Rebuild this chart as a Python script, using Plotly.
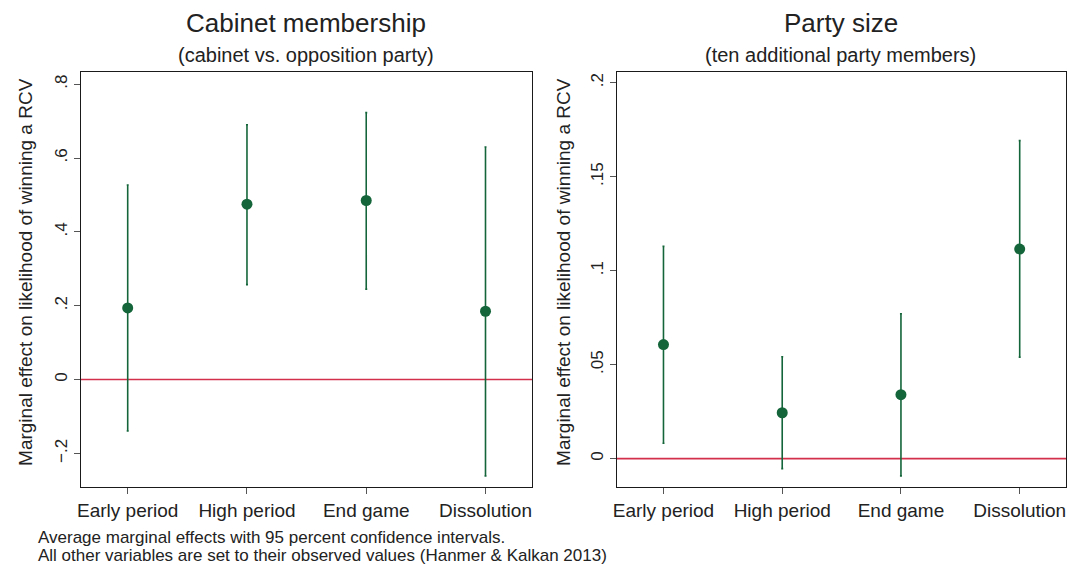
import plotly.graph_objects as go

categories = ["Early period", "High period", "End game", "Dissolution"]

cab_est = [0.194, 0.475, 0.485, 0.185]
cab_lo = [-0.139, 0.257, 0.245, -0.261]
cab_hi = [0.527, 0.690, 0.723, 0.630]

size_est = [0.0607, 0.0244, 0.0340, 0.1115]
size_lo = [0.0082, -0.0053, -0.0092, 0.0540]
size_hi = [0.1129, 0.0542, 0.0771, 0.1692]

cab_ticks = [-0.2, 0, 0.2, 0.4, 0.6, 0.8]
cab_ticktext = ["\u2212.2", "0", ".2", ".4", ".6", ".8"]
size_ticks = [0, 0.05, 0.1, 0.15, 0.2]
size_ticktext = ["0", ".05", ".1", ".15", ".2"]

GREEN = "#14653a"
RED = "#d3304c"
TXT = "#222222"
FONT = "Liberation Sans, Arial, Helvetica, sans-serif"

xpos = list(range(1, len(categories) + 1))

fig = go.Figure()

def add_panel(est, lo, hi, xa, ya):
    fig.add_trace(go.Scatter(
        x=xpos, y=est, mode="markers",
        marker=dict(color=GREEN, size=11),
        error_y=dict(type="data", symmetric=False,
                     array=[h - e for h, e in zip(hi, est)],
                     arrayminus=[e - l for e, l in zip(est, lo)],
                     color=GREEN, thickness=1.6, width=1),
        xaxis=xa, yaxis=ya, showlegend=False, hoverinfo="skip"))

add_panel(cab_est, cab_lo, cab_hi, "x", "y")
add_panel(size_est, size_lo, size_hi, "x2", "y2")

axis_common = dict(showline=True, linecolor="#1a1a1a", linewidth=1.3, mirror=True,
                   showgrid=False, zeroline=False, ticks="outside", ticklen=6,
                   tickcolor="#555555", tickwidth=1.2)
xfont = dict(family=FONT, size=19, color=TXT)
yfont = dict(family=FONT, size=17, color=TXT)

ydom = [1 - 487 / 566, 1 - 72 / 566]

fig.update_layout(
    width=1068, height=566,
    margin=dict(l=0, r=0, t=0, b=0),
    paper_bgcolor="white", plot_bgcolor="white",
    font=dict(family=FONT, color=TXT),
    xaxis=dict(domain=[77 / 1068, 530 / 1068], range=[0.606, 4.39],
               tickvals=xpos, ticktext=categories, anchor="y", tickfont=xfont,
               **axis_common),
    yaxis=dict(domain=ydom, range=[-0.291, 0.833], tickvals=cab_ticks,
               ticktext=cab_ticktext, tickangle=-90, anchor="x", tickfont=yfont,
               **axis_common),
    xaxis2=dict(domain=[615 / 1068, 1066 / 1068], range=[0.606, 4.39],
                tickvals=xpos, ticktext=categories, anchor="y2", tickfont=xfont,
                **axis_common),
    yaxis2=dict(domain=ydom, range=[-0.0151, 0.2057], tickvals=size_ticks,
                ticktext=size_ticktext, tickangle=-90, anchor="x2", tickfont=yfont,
                **axis_common),
)

for xr, yr in (("x domain", "y"), ("x2 domain", "y2")):
    fig.add_shape(type="line", xref=xr, yref=yr, x0=0, x1=1, y0=0, y1=0,
                  line=dict(color=RED, width=1.6), layer="below")

def ann(text, x, y, size, angle=0, xanchor="center"):
    fig.add_annotation(text=text, x=x / 1068, y=1 - y / 566, xref="paper", yref="paper",
                       showarrow=False, textangle=angle, xanchor=xanchor, yanchor="middle",
                       font=dict(family=FONT, size=size, color=TXT))

ann("Cabinet membership", 303, 23, 26)
ann("(cabinet vs. opposition party)", 303, 55, 20)
ann("Party size", 840, 23, 26)
ann("(ten additional party members)", 840, 55, 20)
ann("Marginal effect on likelihood of winning a RCV", 21, 272, 19, angle=-90)
ann("Marginal effect on likelihood of winning a RCV", 561, 272, 19, angle=-90)

ann("Average marginal effects with 95 percent confidence intervals.", 32, 537, 17,
    xanchor="left")
ann("All other variables are set to their observed values (Hanmer &amp; Kalkan 2013)",
    32, 555, 17, xanchor="left")

fig.write_html("out.html", config={"displayModeBar": False},
               post_script="document.body.style.margin='0';")
